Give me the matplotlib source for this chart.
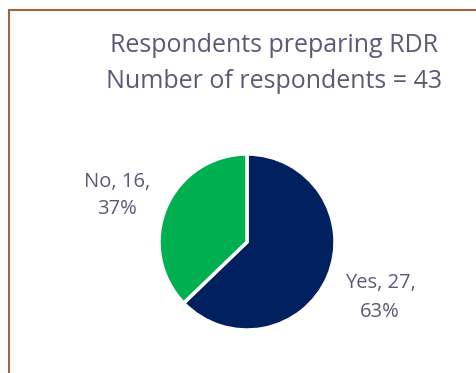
import matplotlib
matplotlib.use("Agg")
import matplotlib.pyplot as plt
from matplotlib.patches import Rectangle

# Data
labels = ["Yes", "No"]
counts = [27, 16]
colors = ["#002060", "#00B050"]
title_lines = ["Respondents preparing RDR", "Number of respondents = 43"]

plt.rcParams["font.family"] = ["Open Sans", "DejaVu Sans"]
text_color = "#5A5A78"
W, H = 477, 373

fig = plt.figure(figsize=(W / 100, H / 100), dpi=100)

# chart-area border (runs past right and bottom edges)
fig.patches.append(Rectangle((9 / W, -0.1), 1.2, 1 - 10 / H + 0.1,
                             transform=fig.transFigure, fill=False,
                             edgecolor="#A0643C", linewidth=1.5))

# title, placed by baseline
for line, base in zip(title_lines, [52, 88]):
    fig.text(274 / W, 1 - base / H, line, ha="center", va="baseline",
             fontsize=18, color=text_color)

r = 88
cx, cy = 247, 242
ax = fig.add_axes([(cx - r) / W, 1 - (cy + r) / H, 2 * r / W, 2 * r / H])
ax.pie(counts, colors=colors, startangle=90, counterclock=False,
       wedgeprops=dict(edgecolor="white", linewidth=2.5))
ax.set_aspect("equal")
ax.set_xlim(-1, 1)
ax.set_ylim(-1, 1)

total = sum(counts)
# data labels: (x centre, baseline of line 1, baseline of line 2)
label_pos = {"No": (117, 187, 214), "Yes": (380, 288, 317)}
for lab, n in zip(labels, counts):
    x, b1, b2 = label_pos[lab]
    fig.text(x / W, 1 - b1 / H, f"{lab}, {n},", ha="center", va="baseline",
             fontsize=14.5, color=text_color)
    fig.text(x / W, 1 - b2 / H, f"{n / total:.0%}", ha="center", va="baseline",
             fontsize=14.5, color=text_color)

fig.savefig("out.png", dpi=100)
